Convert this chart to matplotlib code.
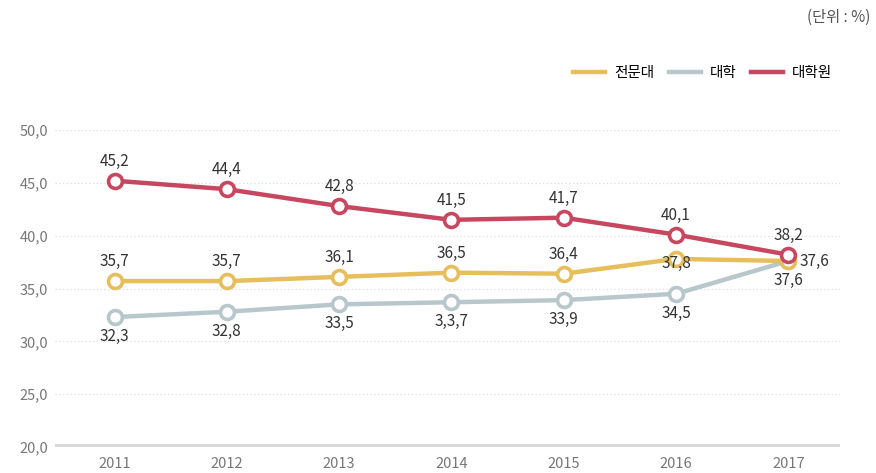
import matplotlib
matplotlib.use("Agg")
import matplotlib.pyplot as plt
from matplotlib.lines import Line2D

plt.rcParams['font.family'] = ['Noto Sans CJK KR', 'DejaVu Sans']

years = [2011, 2012, 2013, 2014, 2015, 2016, 2017]
series_names = ['전문대', '대학', '대학원']
junior = [35.7, 35.7, 36.1, 36.5, 36.4, 37.8, 37.6]
univ = [32.3, 32.8, 33.5, 33.7, 33.9, 34.5, 37.6]
grad = [45.2, 44.4, 42.8, 41.5, 41.7, 40.1, 38.2]
junior_txt = ['35,7', '35,7', '36,1', '36,5', '36,4', '37,8', '37,6']
univ_txt = ['32,3', '32,8', '33,5', '3,3,7', '33,9', '34,5', '37,6']
grad_txt = ['45,2', '44,4', '42,8', '41,5', '41,7', '40,1', '38,2']
yticks = [20, 25, 30, 35, 40, 45, 50]
ytick_txt = ['20,0', '25,0', '30,0', '35,0', '40,0', '45,0', '50,0']

colors = {'전문대': '#e6bf5c', '대학': '#b8c7cc', '대학원': '#c6475f'}

fig = plt.figure(figsize=(8.76, 4.73), dpi=100)
ax = fig.add_axes([55/876, 26/473, 785/876, 317/473])

# grid
for t in yticks[1:]:
    ax.axhline(t, color='#dddddd', lw=0.9, ls=(0, (1, 2)), zorder=0)
ax.axhline(20, color='#d9d9d9', lw=4.5, zorder=1)

def draw(vals, name):
    ax.plot(years, vals, color=colors[name], lw=3.2, zorder=3, solid_capstyle='round',
            marker='o', ms=10, mfc='white', mec=colors[name], mew=2.6)

draw(univ, '대학')
draw(junior, '전문대')
draw(grad, '대학원')

lab = dict(fontsize=11, color='#333333', zorder=5)
for i, (x, v) in enumerate(zip(years, grad)):
    ax.annotate(grad_txt[i], (x, v), xytext=(0, 8), textcoords='offset points',
                ha='center', va='bottom', **lab)
for i, (x, v) in enumerate(zip(years, junior)):
    if x == 2017:
        ax.annotate(junior_txt[i], (x, v), xytext=(8, 0), textcoords='offset points',
                    ha='left', va='center', **lab)
    elif x == 2016:
        ax.annotate(junior_txt[i], (x, v), xytext=(0, -3), textcoords='offset points',
                    ha='center', va='center', **lab)
    else:
        ax.annotate(junior_txt[i], (x, v), xytext=(0, 8), textcoords='offset points',
                    ha='center', va='bottom', **lab)
for i, (x, v) in enumerate(zip(years, univ)):
    ax.annotate(univ_txt[i], (x, v), xytext=(0, -8), textcoords='offset points',
                ha='center', va='top', **lab)

ax.set_xlim(2010.47, 2017.46)
ax.set_ylim(20, 50)
ax.set_xticks(years)
ax.set_xticklabels([str(y) for y in years])
ax.set_yticks(yticks)
ax.set_yticklabels(ytick_txt)
ax.tick_params(length=0, colors='#777777', labelsize=10.5)
ax.tick_params(axis='x', pad=7)
ax.tick_params(axis='y', pad=5)
for s in ax.spines.values():
    s.set_visible(False)

handles = [Line2D([0], [0], color=colors[n], lw=3.2) for n in series_names]
fig.legend(handles, series_names, loc='center right', bbox_to_anchor=(845/876, 1 - 73/473),
           ncol=3, frameon=False, fontsize=10.5, handlelength=2.2, columnspacing=1.0,
           handletextpad=0.6)

fig.text(870/876, 1 - 17/473, '(단위 : %)', ha='right', va='center', fontsize=11, color='#555555')

fig.savefig('out.png', dpi=100)
